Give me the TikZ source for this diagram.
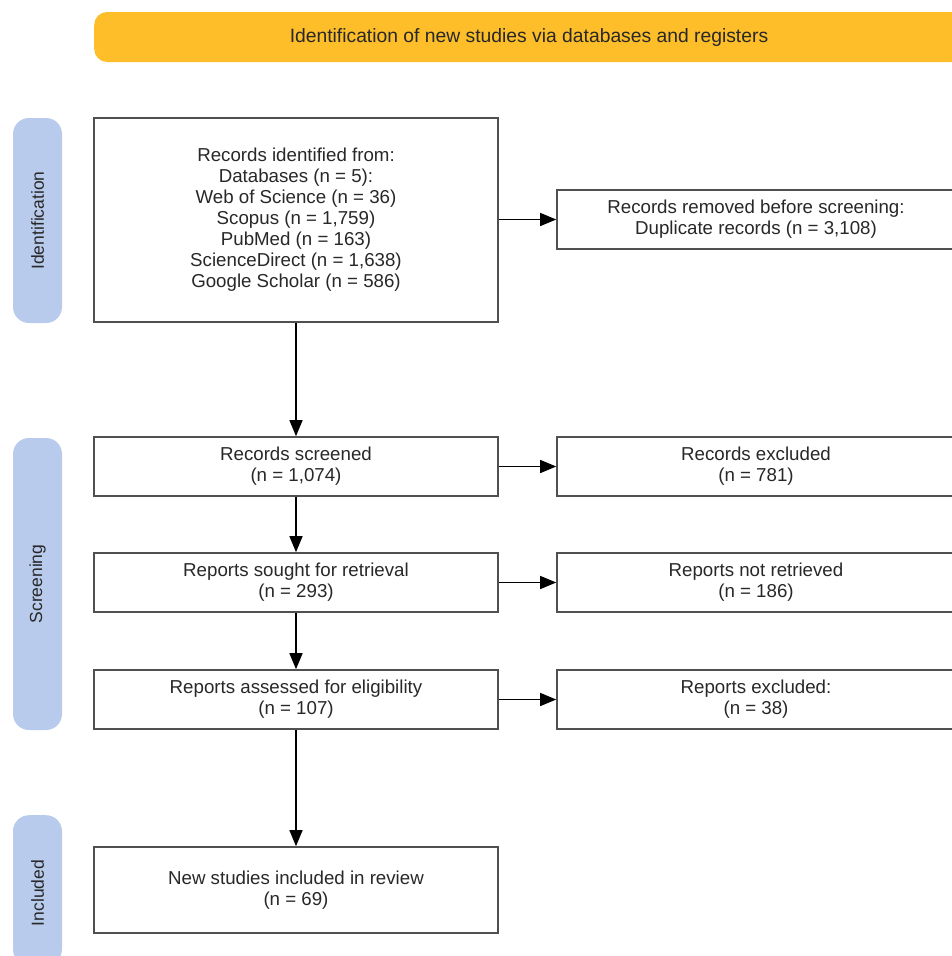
\documentclass[tikz,border=0pt]{standalone}
\usepackage{fontspec}
\setmainfont{Liberation Sans}
\usetikzlibrary{arrows.meta}
\definecolor{banner}{RGB}{253,190,42}
\definecolor{pill}{RGB}{184,203,236}
\definecolor{boxline}{RGB}{80,80,80}
\definecolor{txt}{RGB}{40,40,40}
\tikzset{
  box/.style={draw=boxline, line width=1.6pt, fill=white, text=txt, align=center,
    inner sep=0pt, font=\fontsize{18.7}{21}\selectfont},
  lbox/.style={box, minimum width=404pt},
  rbox/.style={box, minimum width=398pt},
  pillbox/.style={fill=pill, rounded corners=16pt, minimum width=49pt, inner sep=0pt,
    text=txt, font=\fontsize{17.5}{20}\selectfont},
  arr/.style={draw=black, line width=1.4pt, -{Triangle[length=16pt,width=13pt]}}
}
\begin{document}
\begin{tikzpicture}[x=1pt,y=-1pt]
\useasboundingbox (0,0) rectangle (952,956);
\clip (0,0) rectangle (952,956);
% banner
\node[fill=banner, rounded corners=13pt, minimum width=870pt, minimum height=50pt, inner sep=0pt,
  anchor=west] (ban) at (94,37) {};
\node[text=txt, font=\fontsize{19.3}{21}\selectfont] (bant) at (529,37.5) {Identification of new studies via databases and registers};
% phase pills
\node[pillbox, minimum height=205pt] (pid) at (37.5,220.5) {};
\node[rotate=90, text=txt, font=\fontsize{17.5}{20}\selectfont] (pidt) at (37.5,220.5) {Identification};
\node[pillbox, minimum height=292pt] (psc) at (37.5,584) {};
\node[rotate=90, text=txt, font=\fontsize{17.5}{20}\selectfont] (psct) at (37.5,584) {Screening};
\node[pillbox, minimum height=150pt, anchor=north] (pin) at (37.5,815) {};
\node[rotate=90, text=txt, font=\fontsize{17.5}{20}\selectfont] (pint) at (37.5,893) {Included};
% left boxes
\node[lbox, minimum height=204pt] (id) at (296,220) {Records identified from:\\Databases (n = 5):\\Web of Science (n = 36)\\Scopus (n = 1,759)\\PubMed (n = 163)\\ScienceDirect (n = 1,638)\\Google Scholar (n = 586)};
\node[lbox, minimum height=59pt] (scr) at (296,466.5) {Records screened\\(n = 1,074)};
\node[lbox, minimum height=59pt] (sou) at (296,582.5) {Reports sought for retrieval\\(n = 293)};
\node[lbox, minimum height=59pt] (ass) at (296,699.5) {Reports assessed for eligibility\\(n = 107)};
\node[lbox, minimum height=86pt] (inc) at (296,890) {New studies included in review\\(n = 69)};
% right boxes
\node[rbox, minimum height=59pt] (rem) at (756,219.5) {Records removed before screening:\\Duplicate records (n = 3,108)};
\node[rbox, minimum height=59pt] (exc) at (756,466.5) {Records excluded\\(n = 781)};
\node[rbox, minimum height=59pt] (nr) at (756,582.5) {Reports not retrieved\\(n = 186)};
\node[rbox, minimum height=59pt] (rex) at (756,699.5) {Reports excluded:\\(n = 38)};
% arrows
\draw[arr] (id) -- (scr);
\draw[arr] (scr) -- (sou);
\draw[arr] (sou) -- (ass);
\draw[arr] (ass) -- (inc);
\draw[arr] (id.east |- rem.west) -- (rem.west);
\draw[arr] (scr) -- (exc);
\draw[arr] (sou) -- (nr);
\draw[arr] (ass) -- (rex);
\end{tikzpicture}
\end{document}
